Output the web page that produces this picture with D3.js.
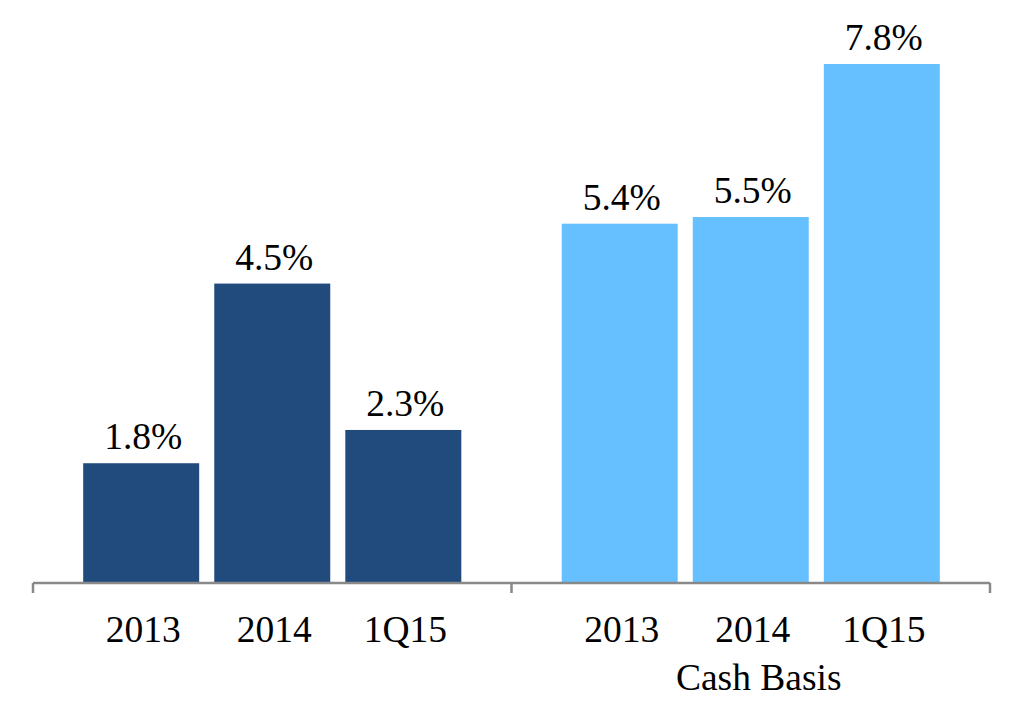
<!DOCTYPE html>
<html>
<head>
<meta charset="utf-8">
<script src="https://cdn.jsdelivr.net/npm/d3@7"></script>
<style>
  html, body { margin: 0; padding: 0; background: #fff; }
  svg text { font-family: "Liberation Serif", "Times New Roman", serif; fill: #000; }
</style>
</head>
<body>
<div id="chart"></div>
<script>
// Chart data
const groups = ["GAAP", "Cash Basis"];
const groupTitles = ["", "Cash Basis"];
const periods = ["2013", "2014", "1Q15"];
const gaapValues = [1.8, 4.5, 2.3];
const cashValues = [5.4, 5.5, 7.8];
const groupColors = ["#214a7d", "#66c0ff"];

const series = [gaapValues, cashValues];

const width = 1020, height = 720;
const baseline = 583, axisLeft = 33, axisRight = 990;

const svg = d3.select("#chart").append("svg")
    .attr("width", width)
    .attr("height", height);

// Scales
const x0 = d3.scaleBand()
    .domain(groups)
    .range([axisLeft, axisRight])
    .padding(0);

const x1 = d3.scaleBand()
    .domain(periods)
    .range([0, x0.bandwidth()])
    .paddingInner(0.115)
    .paddingOuter(0.383);

const y = d3.scaleLinear()
    .domain([0, d3.max(series.flat())])
    .range([baseline, 64]);

// Bars + labels per group
groups.forEach((g, gi) => {
    const rows = periods.map((p, i) => ({ period: p, value: series[gi][i] }));
    const grp = svg.append("g")
        .attr("transform", `translate(${x0(g)},0)`);

    grp.selectAll(".bar")
        .data(rows)
        .enter()
        .append("rect")
        .attr("class", "bar")
        .attr("x", d => x1(d.period))
        .attr("y", d => y(d.value))
        .attr("width", x1.bandwidth())
        .attr("height", d => baseline - y(d.value))
        .attr("fill", groupColors[gi]);

    grp.selectAll(".label")
        .data(rows)
        .enter()
        .append("text")
        .attr("class", "label")
        .attr("x", d => x1(d.period) + x1.bandwidth() / 2 + 2)
        .attr("y", d => y(d.value) - 14)
        .attr("text-anchor", "middle")
        .style("font-size", "37.5px")
        .text(d => d3.format(".1f")(d.value) + "%");

    grp.selectAll(".cat")
        .data(rows)
        .enter()
        .append("text")
        .attr("class", "cat")
        .attr("x", d => x1(d.period) + x1.bandwidth() / 2 + 2)
        .attr("y", 642)
        .attr("text-anchor", "middle")
        .style("font-size", "37.5px")
        .text(d => d.period);

    if (groupTitles[gi]) {
        grp.append("text")
            .attr("x", x1(periods[1]) + x1.bandwidth() / 2 + 8)
            .attr("y", 690)
            .attr("text-anchor", "middle")
            .style("font-size", "37.5px")
            .text(groupTitles[gi]);
    }
});

// Axis line with group separator ticks
const axisG = svg.append("g")
    .attr("transform", `translate(0,${baseline})`)
    .call(d3.axisBottom(x0).tickSize(0).tickFormat(""));
axisG.select(".domain").attr("stroke", "#898989").attr("stroke-width", 2.5)
    .attr("d", `M${axisLeft},0H${axisRight}`);

const edges = [axisLeft].concat(groups.map(g => x0(g) + x0.bandwidth()));
axisG.selectAll(".sep")
    .data(edges)
    .enter()
    .append("line")
    .attr("class", "sep")
    .attr("x1", d => d)
    .attr("x2", d => d)
    .attr("y1", 0)
    .attr("y2", 10)
    .attr("stroke", "#898989")
    .attr("stroke-width", 2.5);
</script>
</body>
</html>
